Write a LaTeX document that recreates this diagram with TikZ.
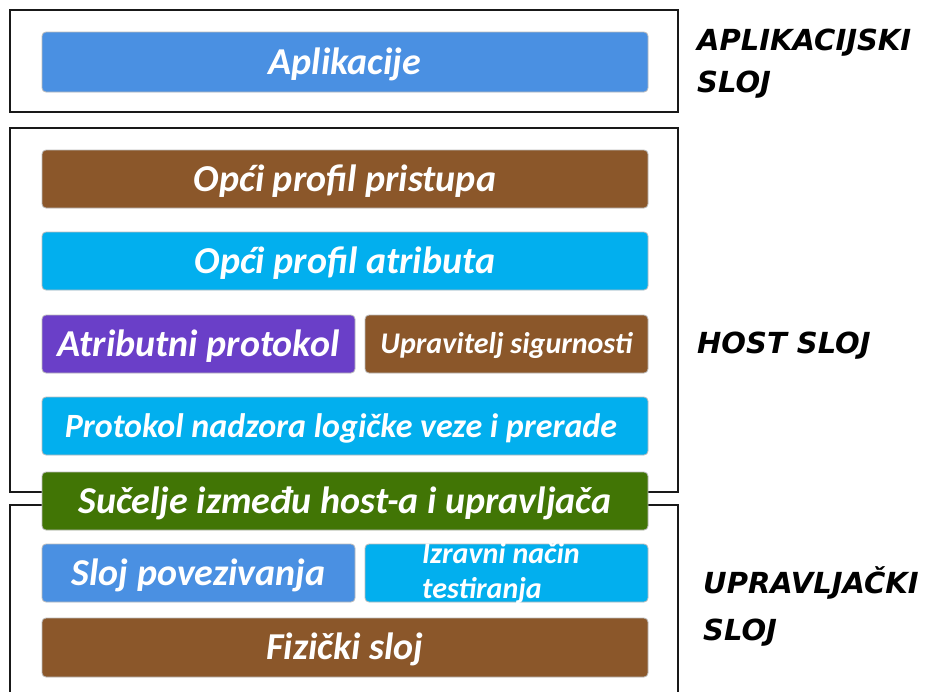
\documentclass[tikz,border=0pt]{standalone}
\usepackage{fontspec}
\setmainfont{Carlito}
\newfontfamily\sidefont{DejaVu Sans}
\definecolor{cblue}{HTML}{4A90E2}
\definecolor{cbrown}{HTML}{8B572A}
\definecolor{ccyan}{HTML}{02AFEE}
\definecolor{cpurple}{HTML}{6A3FC8}
\definecolor{cgreen}{HTML}{417505}
\definecolor{cedge}{HTML}{BBBBBB}
\tikzset{
  bar/.style={draw=cedge, line width=0.8pt, rounded corners=4pt, text=white,
    inner sep=0pt, font=\bfseries\itshape\fontsize{38}{40}\selectfont,
    text height=28pt, text depth=4pt},
  midfont/.style={font=\bfseries\itshape\fontsize{34}{36}\selectfont,
    text height=26pt, text depth=4pt},
  smallfont/.style={font=\bfseries\itshape\fontsize{30}{32}\selectfont,
    text height=23pt, text depth=4pt},
  wide/.style={bar, minimum width=606pt, minimum height=58pt},
  lefthalf/.style={bar, minimum width=313pt, minimum height=58pt},
  righthalf/.style={bar, minimum width=283pt, minimum height=58pt},
  frame/.style={draw=black!90, line width=2pt},
  side/.style={anchor=base west, inner sep=0pt, align=left,
    font=\sidefont\bfseries\itshape\fontsize{29}{42}\selectfont}
}
\begin{document}
\begin{tikzpicture}[x=1pt,y=-1pt]
\useasboundingbox (0,0) rectangle (928,691);
\fill[white] (0,0) rectangle (928,691);
% frames
\draw[frame] (10,10) rectangle (678,112);
\draw[frame] (10,128) rectangle (678,492);
\draw[frame] (10,700) -- (10,505) -- (678,505) -- (678,700);
% application layer
\node[wide, fill=cblue, minimum height=60pt] (app) at (345,62) {Aplikacije};
% host layer
\node[wide, fill=cbrown] (gap) at (345,179) {Opći profil pristupa};
\node[wide, fill=ccyan] (gatt) at (345,261) {Opći profil atributa};
\node[lefthalf, fill=cpurple] (att) at (198.5,344) {Atributni protokol};
\node[righthalf, fill=cbrown, smallfont] (smp) at (506.5,344) {Upravitelj sigurnosti};
\node[wide, fill=ccyan, midfont] (l2cap) at (345,426) {Protokol nadzora logičke veze i prerade\hspace*{8pt}};
% interface
\node[wide, fill=cgreen] (hci) at (345,501) {Sučelje između host-a i upravljača};
% controller layer
\node[lefthalf, fill=cblue] (ll) at (198.5,573) {Sloj povezivanja};
\node[righthalf, fill=ccyan] (dtm) at (506.5,573) {};
\node[anchor=base west, inner sep=0pt, align=left, text=white,
  font=\bfseries\itshape\fontsize{30}{35}\selectfont] (dtmtext) at (422,598) {Izravni način\\testiranja};
\node[wide, fill=cbrown, minimum height=59pt] (phy) at (345,647.5) {Fizički sloj};
% side labels
\node[side] (lapp) at (697,92) {APLIKACIJSKI\\SLOJ};
\node[side] (lhost) at (697,353) {HOST SLOJ};
\node[side, font=\sidefont\bfseries\itshape\fontsize{29}{47}\selectfont] (lctl) at (703,640) {UPRAVLJAČKI\\SLOJ};
\end{tikzpicture}
\end{document}
